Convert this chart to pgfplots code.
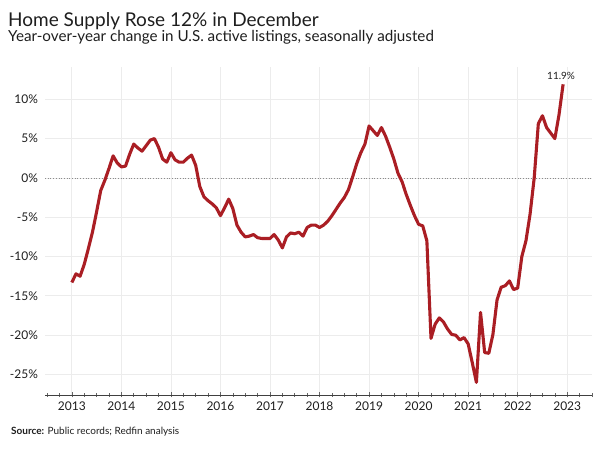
\documentclass[border=0pt]{standalone}
\usepackage{pgfplots}
\pgfplotsset{compat=1.18}
\usepackage{fontspec}
\setmainfont{Lato}
\definecolor{linered}{RGB}{170,30,36}
\definecolor{gridc}{RGB}{236,236,236}
\definecolor{txt}{RGB}{30,30,30}
\pgfplotstableread{
m v
0 -13.3
1 -12.2
2 -12.5
3 -11.0
4 -9.0
5 -6.9
6 -4.3
7 -1.6
8 -0.3
9 1.2
10 2.8
11 1.9
12 1.4
13 1.5
14 3.0
15 4.3
16 3.8
17 3.4
18 4.1
19 4.8
20 5.0
21 3.9
22 2.4
23 2.0
24 3.2
25 2.3
26 2.0
27 2.0
28 2.5
29 2.9
30 1.6
31 -1.1
32 -2.4
33 -2.9
34 -3.3
35 -3.8
36 -4.8
37 -3.8
38 -2.7
39 -3.9
40 -6.0
41 -6.9
42 -7.5
43 -7.4
44 -7.2
45 -7.6
46 -7.7
47 -7.7
48 -7.7
49 -7.2
50 -7.9
51 -8.9
52 -7.5
53 -7.0
54 -7.1
55 -6.9
56 -7.4
57 -6.3
58 -6.0
59 -6.0
60 -6.3
61 -6.0
62 -5.5
63 -4.8
64 -4.0
65 -3.2
66 -2.5
67 -1.5
68 0.1
69 1.8
70 3.2
71 4.3
72 6.6
73 6.0
74 5.4
75 6.4
76 5.3
77 3.9
78 2.4
79 0.6
80 -0.5
81 -2.1
82 -3.5
83 -4.8
84 -5.9
85 -6.1
86 -8.0
87 -20.4
88 -18.6
89 -17.8
90 -18.3
91 -19.2
92 -19.9
93 -20.0
94 -20.6
95 -20.3
96 -21.1
97 -23.5
98 -26.0
99 -17.1
100 -22.2
101 -22.3
102 -19.9
103 -15.5
104 -13.9
105 -13.7
106 -13.1
107 -14.2
108 -14.0
109 -10.0
110 -8.0
111 -4.6
112 0.0
113 6.9
114 7.9
115 6.4
116 5.7
117 5.0
118 8.0
119 11.9
}\supply
\begin{document}
\begin{tikzpicture}
\path[use as bounding box] (0pt,0pt) rectangle (600pt,450pt);
\node[anchor=base west, inner sep=0, text=txt, font=\fontsize{19}{22}\selectfont] at (8pt,423pt) {Home Supply Rose 12\% in December};
\node[anchor=base west, inner sep=0, text=txt, font=\fontsize{15.2}{18}\selectfont] at (8pt,408pt) {Year-over-year change in U.S. active listings, seasonally adjusted};
\node[anchor=base west, inner sep=0, text=txt, font=\fontsize{10}{12}\selectfont] at (11pt,15pt) {\textbf{Source:} Public records; Redfin analysis};
\begin{axis}[
  at={(45pt,55pt)}, anchor=south west, scale only axis,
  width=547pt, height=328pt,
  xmin=-6.5, xmax=126, ymin=-27.6, ymax=14.1,
  axis lines*=left,
  x axis line style={-, draw=black!75, line width=0.8pt},
  y axis line style={draw=none},
  xtick={0,12,...,120},
  xticklabels={2013,2014,2015,2016,2017,2018,2019,2020,2021,2022,2023},
  minor xtick={-6,-3,...,126},
  tick align=center,
  major tick length=5pt, minor tick length=3.5pt,
  x tick style={draw=black!60, line width=0.6pt},
  ytick={-25,-20,...,10},
  yticklabel={\pgfmathprintnumber{\tick}\%},
  y tick style={draw=none},
  /pgf/number format/assume math mode=true,
  tick label style={font=\fontsize{12}{14}\selectfont, text=txt},
  yticklabel style={xshift=-1pt},
  xticklabel style={yshift=-1pt},
  xmajorgrids, ymajorgrids,
  major grid style={draw=gridc, line width=0.8pt},
  clip=false,
]
\draw[black!45, line width=0.7pt, dotted] (axis cs:-6.5,0) -- (axis cs:126,0);
\addplot[linered, line width=3.1pt, line join=round, no markers] table[x=m, y=v] {\supply};
\node[anchor=south, font=\fontsize{10}{12}\selectfont, text=txt, xshift=-2pt, yshift=1pt] at (axis cs:119,11.9) {11.9\%};
\end{axis}
\end{tikzpicture}
\end{document}
